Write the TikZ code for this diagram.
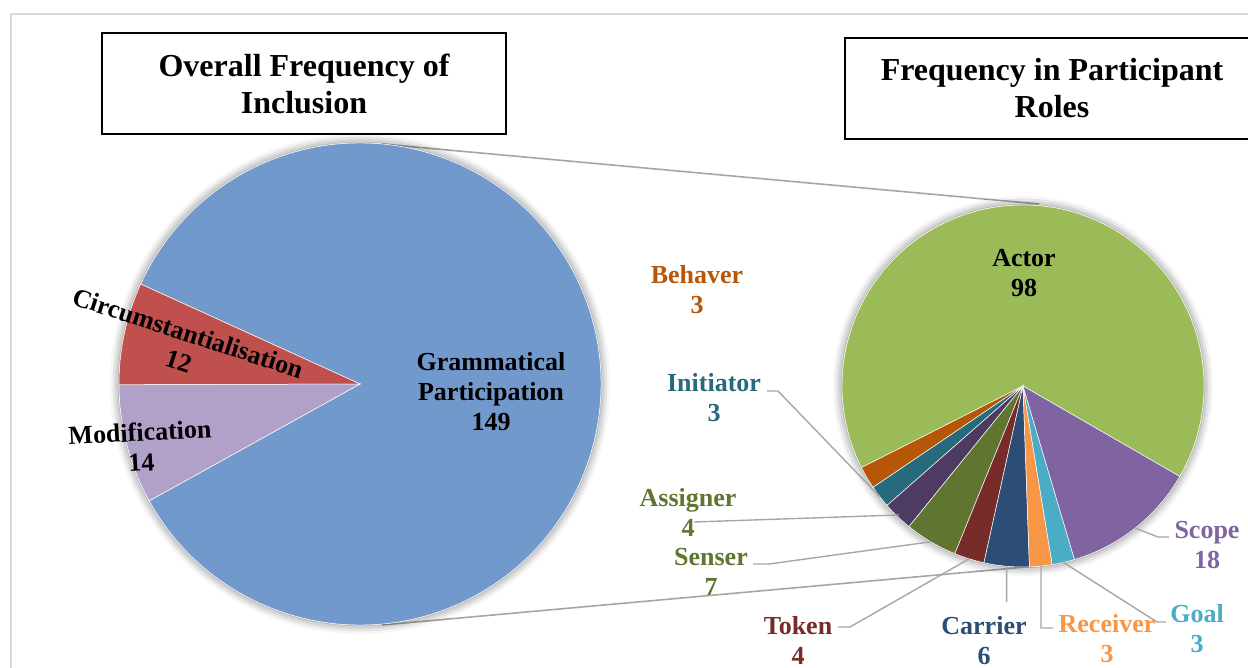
\documentclass[tikz,border=0pt]{standalone}
\usepackage{fontspec}
\setmainfont{Liberation Serif}
\usetikzlibrary{calc,shadows.blur}
\definecolor{gpblue}{HTML}{7199CB}
\definecolor{circred}{HTML}{C0504D}
\definecolor{modlav}{HTML}{B1A0C7}
\definecolor{actgreen}{HTML}{9BBB59}
\definecolor{scopepurple}{HTML}{8064A2}
\definecolor{goalaqua}{HTML}{4BACC6}
\definecolor{recorange}{HTML}{F79646}
\definecolor{carblue}{HTML}{2C4D75}
\definecolor{tokred}{HTML}{772C2A}
\definecolor{sensgreen}{HTML}{5F7530}
\definecolor{asspurple}{HTML}{4D3B62}
\definecolor{initeal}{HTML}{276A7C}
\definecolor{behorange}{HTML}{B65708}
\definecolor{leadgray}{HTML}{A6A6A6}
\definecolor{framegray}{HTML}{D9D9D9}
% center, radius, visual start angle, visual end angle, colour
\newcommand\pieslice[5]{%
  \fill[#5, draw=white, line width=0.5pt] (#1) -- ++({-(#3)}:#2)
    arc[start angle={-(#3)}, end angle={-(#4)}, radius=#2] -- cycle;}
\begin{document}
\begin{tikzpicture}[x=1pt,y=-1pt,
  lbl/.style={font=\bfseries\fontsize{26}{30}\selectfont, align=center, inner sep=0pt},
  titlebox/.style={draw=black, line width=2pt, align=center, inner sep=0pt,
    font=\bfseries\fontsize{32}{37}\selectfont, minimum height=101},
  leader/.style={draw=leadgray, line width=1.4pt},
  connector/.style={draw=leadgray, line width=1.6pt},
  pieshadow/.style={blur shadow={shadow xshift=0pt, shadow yshift=0pt,
    shadow blur radius=9pt, shadow opacity=55}}]
\path[use as bounding box] (0,0) rectangle (1248,668);
\draw[framegray, line width=1.2pt] (11,668) -- (11,14) -- (1248,14);

% titles
\node[titlebox, minimum width=404] (tleft) at (304,83.5) {Overall Frequency of\\Inclusion};
\node[titlebox, minimum width=414] (tright) at (1052,88.5) {Frequency in Participant\\Roles};

% centres
\coordinate (L) at (360,384);
\coordinate (R) at (1023,386);

% connectors between the pies
\coordinate (Ltop) at (382,144);
\coordinate (Rtop) at (1039,204);
\coordinate (Lbot) at (382,625);
\coordinate (Rbot) at (1037,566);
\draw[connector] (Ltop) -- (Rtop);
\draw[connector] (Lbot) -- (Rbot);

% left pie
\fill[white, pieshadow] (L) circle[radius=241];
\pieslice{L}{241}{-151}{155.5}{gpblue}
\pieslice{L}{241}{155.5}{180.2}{circred}
\pieslice{L}{241}{180.2}{209}{modlav}

\node[lbl] (gp) at (491,391.5) {Grammatical\\Participation\\149};
\node[lbl, rotate=-18] (circ) at (183.4,347) {Circumstantialisation\\12};
\node[lbl, rotate=3] (mod) at (140.7,447) {Modification\\14};

% right pie
\fill[white, pieshadow] (R) circle[radius=181];
\pieslice{R}{181}{-29.98}{206.8}{actgreen}
\pieslice{R}{181}{206.8}{214.05}{behorange}
\pieslice{R}{181}{214.05}{221.30}{initeal}
\pieslice{R}{181}{221.30}{230.96}{asspurple}
\pieslice{R}{181}{230.96}{247.88}{sensgreen}
\pieslice{R}{181}{247.88}{257.54}{tokred}
\pieslice{R}{181}{257.54}{272.04}{carblue}
\pieslice{R}{181}{272.04}{279.29}{recorange}
\pieslice{R}{181}{279.29}{286.53}{goalaqua}
\pieslice{R}{181}{286.53}{330.02}{scopepurple}

% slice anchor points
\coordinate (iniP) at ($(R)+({-217.7}:181)$);
\coordinate (assP) at ($(R)+({-226.1}:179)$);
\coordinate (senP) at ($(R)+({-239.4}:181)$);
\coordinate (tokP) at ($(R)+({-252.7}:181)$);
\coordinate (carP) at ($(R)+({-264.8}:181)$);
\coordinate (recP) at ($(R)+({-275.7}:181)$);
\coordinate (goaP) at ($(R)+({-282.9}:181)$);
\coordinate (scoP) at ($(R)+({-308.3}:181)$);

% labels
\node[lbl] (actor) at (1024,273) {Actor\\98};
\node[lbl, text=behorange] (beh) at (697,290) {Behaver\\3};
\node[lbl, text=initeal] (ini) at (714,398) {Initiator\\3};
\node[lbl, text=sensgreen] (ass) at (688,512) {Assigner\\4};
\node[lbl, text=sensgreen] (sen) at (711,572) {Senser\\7};
\node[lbl, text=tokred] (tok) at (798,640.5) {Token\\4};
\node[lbl, text=carblue] (car) at (984,640.5) {Carrier\\6};
\node[lbl, text=recorange] (rec) at (1107,639) {Receiver\\3};
\node[lbl, text=goalaqua] (goa) at (1197,628.5) {Goal\\3};
\node[lbl, text=scopepurple] (sco) at (1207,545) {Scope\\18};

% leader line bends / ends
\coordinate (iniK) at (778,391);  \coordinate (iniE) at (767,391);
\coordinate (assE) at (694,522);
\coordinate (senK) at (769,564);  \coordinate (senE) at (753,564);
\coordinate (tokK) at (850,627);  \coordinate (tokE) at (838,627);
\coordinate (carE) at (1006.6,602);
\coordinate (recK) at (1041,628); \coordinate (recE) at (1053,628);
\coordinate (goaK) at (1157,622); \coordinate (goaE) at (1166,622);
\coordinate (scoK) at (1158,537); \coordinate (scoE) at (1169,537);

\draw[leader] (iniP) -- (iniK) -- (iniE);
\draw[leader] (assP) -- (assE);
\draw[leader] (senP) -- (senK) -- (senE);
\draw[leader] (tokP) -- (tokK) -- (tokE);
\draw[leader] (carP) -- (carE);
\draw[leader] (recP) -- (recK) -- (recE);
\draw[leader] (goaP) -- (goaK) -- (goaE);
\draw[leader] (scoP) -- (scoK) -- (scoE);
\end{tikzpicture}
\end{document}
